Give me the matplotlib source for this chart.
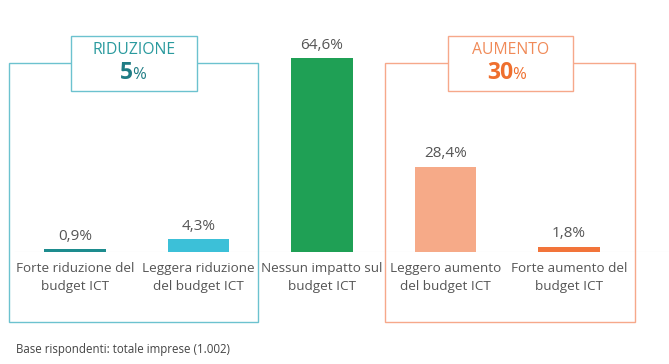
import matplotlib
matplotlib.use("Agg")
import matplotlib.pyplot as plt
from matplotlib.patches import Rectangle

# data
categories = ["Forte riduzione del\nbudget ICT",
              "Leggera riduzione\ndel budget ICT",
              "Nessun impatto sul\nbudget ICT",
              "Leggero aumento\ndel budget ICT",
              "Forte aumento del\nbudget ICT"]
values = [0.9, 4.3, 64.6, 28.4, 1.8]
value_labels = ["0,9%", "4,3%", "64,6%", "28,4%", "1,8%"]
colors = ["#1d8c8e", "#3cc0d8", "#1fa055", "#f6aa88", "#f2743a"]

groups = ["RIDUZIONE", "AUMENTO"]
group_totals = ["5", "30"]
footnote = "Base rispondenti: totale imprese (1.002)"

plt.rcParams["font.family"] = ["Open Sans", "DejaVu Sans"]

W, H = 669, 364
fig = plt.figure(figsize=(W / 100, H / 100), dpi=100)
fig.patch.set_facecolor("white")


def fx(px):
    return px / W


def fy(py):
    return 1 - py / H


# axes: baseline at y=252px, ~3 px per unit
base_px = 252
ax = fig.add_axes([0, fy(base_px), 1, base_px / H])
step = 123.5
x0 = 75
ax.set_xlim(-x0 / step, (W - x0) / step)
ax.set_ylim(0, base_px / 3.0)
ax.axis("off")

xs = list(range(len(values)))
ax.bar(xs, values, width=0.5, color=colors, zorder=3)
for x, v, lab in zip(xs, values, value_labels):
    ax.annotate(lab, (x, v), xytext=(0, 4), textcoords="offset points",
                ha="center", va="bottom", fontsize=11, color="#555555")
    ax.annotate(categories[x], (x, 0), xytext=(0, -7), textcoords="offset points",
                ha="center", va="top", fontsize=9.7, color="#555555",
                linespacing=1.5, annotation_clip=False)
ax.axhline(0, xmin=15 / W, xmax=1, color="#dddddd", lw=0.8, zorder=2)

# group boxes
box_specs = [
    (9, 258, 71, 197, "#6cc2cf", "#2a9a9e", "#1f7c84", 133),
    (385, 635, 448, 573, "#f6a88a", "#f08a58", "#ef6f2e", 513),
]
for (l, r, bl, br, edge, tcol, ncol, split), g, tot in zip(box_specs, groups, group_totals):
    fig.patches.append(Rectangle((fx(l), fy(322)), fx(r - l), (322 - 63) / H,
                                 transform=fig.transFigure, fill=False,
                                 edgecolor=edge, lw=1.0, zorder=1))
    fig.patches.append(Rectangle((fx(bl), fy(91)), fx(br - bl), (91 - 36) / H,
                                 transform=fig.transFigure, facecolor="white",
                                 edgecolor=edge, lw=1.0, zorder=4))
    fig.text(fx((bl + br) / 2), fy(50), g, ha="center", va="center",
             fontsize=11.3, color=tcol, zorder=5)
    fig.text(fx(split), fy(73), tot, ha="right", va="center",
             fontsize=16.5, fontweight="bold", color=ncol, zorder=5)
    fig.text(fx(split - 1), fy(75), "%", ha="left", va="center",
             fontsize=12, color=ncol, zorder=5)

fig.text(fx(16), fy(350), footnote, ha="left", va="center",
         fontsize=8.3, color="#444444")

fig.savefig("out.png", dpi=100, facecolor="white")
